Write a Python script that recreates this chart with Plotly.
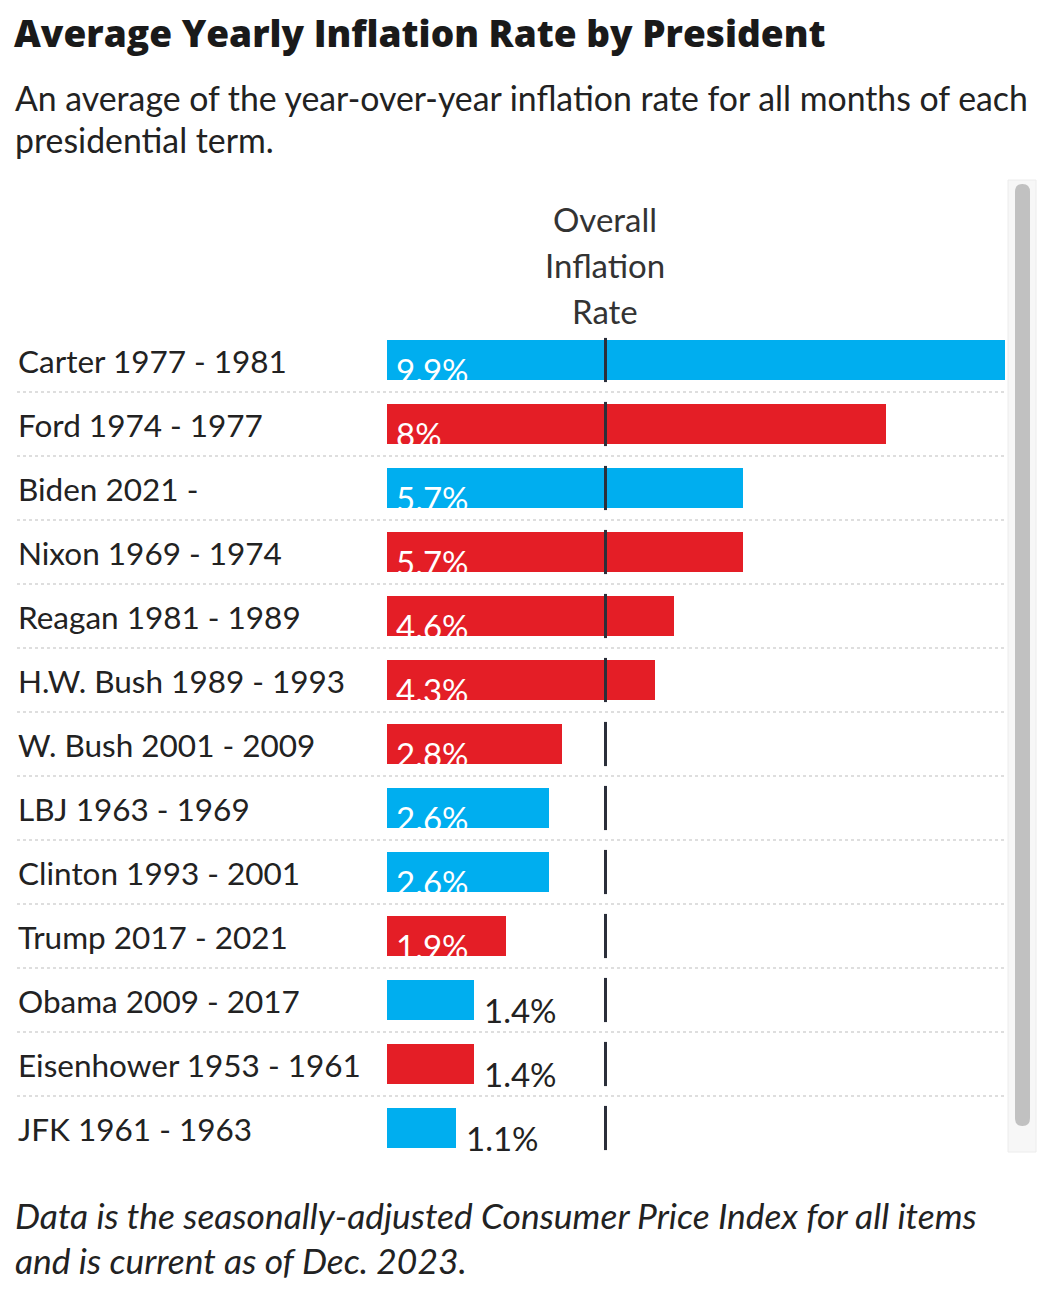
import plotly.graph_objects as go

# ---------------- data ----------------
presidents = ["Carter 1977 - 1981", "Ford 1974 - 1977", "Biden 2021 -", "Nixon 1969 - 1974",
              "Reagan 1981 - 1989", "H.W. Bush 1989 - 1993", "W. Bush 2001 - 2009",
              "LBJ 1963 - 1969", "Clinton 1993 - 2001", "Trump 2017 - 2021",
              "Obama 2009 - 2017", "Eisenhower 1953 - 1961", "JFK 1961 - 1963"]
rates = [9.9, 8.0, 5.7, 5.7, 4.6, 4.3, 2.8, 2.6, 2.6, 1.9, 1.4, 1.4, 1.1]
rate_labels = ["9.9%", "8%", "5.7%", "5.7%", "4.6%", "4.3%", "2.8%", "2.6%", "2.6%",
               "1.9%", "1.4%", "1.4%", "1.1%"]
parties = ["D", "R", "D", "R", "R", "R", "R", "D", "D", "R", "D", "R", "D"]
overall_rate = 3.5

title = "Average Yearly Inflation Rate by President"
subtitle_lines = ["An average of the year-over-year inflation rate for all months of each",
                  "presidential term."]
header_lines = ["Overall", "Inflation", "Rate"]
note_lines = ["Data is the seasonally-adjusted Consumer Price Index for all items",
              "and is current as of Dec. 2023."]

# ---------------- style ----------------
OFF = 8                      # page body margin
W, H = 1052 - 2 * OFF, 1290 - 2 * OFF
FONT = "Lato"
BLUE = "#00AEEF"
RED = "#E41E26"
TEXT = "#222222"
party_color = {"D": BLUE, "R": RED}


def px(x):
    return (x - OFF) / W


def py(y):
    return 1 - (y - OFF) / H


n = len(presidents)
idx = list(range(n))
row_top, row_h = 328, 64
colors = [party_color[p] for p in parties]

fig = go.Figure()
fig.add_trace(go.Bar(
    x=rates, y=idx, orientation="h", marker=dict(color=colors, line=dict(width=0)),
    width=40 / 64, hoverinfo="skip", showlegend=False,
))

# overall line segments
lx, ly = [], []
for i in idx:
    lx += [overall_rate, overall_rate, None]
    ly += [i - 0.345, i + 0.345, None]
fig.add_trace(go.Scatter(x=lx, y=ly, mode="lines", line=dict(color="#2b2f3a", width=3),
                         hoverinfo="skip", showlegend=False))

annotations = []
shapes = []

# title & subtitle
annotations.append(dict(text=title, x=px(12), y=py(33), xref="paper", yref="paper",
                        xanchor="left", yanchor="middle", showarrow=False,
                        font=dict(family="Open Sans", size=37, color="#1a1a1a", weight=800)))
for k, line in enumerate(subtitle_lines):
    annotations.append(dict(text=line, x=px(13), y=py(98 + 42 * k), xref="paper", yref="paper",
                            xanchor="left", yanchor="middle", showarrow=False,
                            font=dict(family=FONT, size=33.8, color=TEXT)))
for k, line in enumerate(header_lines):
    annotations.append(dict(text=line, x=overall_rate, y=py(219 + 46 * k), xref="x", yref="paper",
                            xanchor="center", yanchor="middle", showarrow=False,
                            font=dict(family=FONT, size=33, color="#333333")))
for k, line in enumerate(note_lines):
    annotations.append(dict(text=f"<i>{line}</i>", x=px(13), y=py(1215 + 45 * k), xref="paper",
                            yref="paper", xanchor="left", yanchor="middle", showarrow=False,
                            font=dict(family=FONT, size=35.4, color=TEXT)))

# row labels, value labels, separators
for i in idx:
    annotations.append(dict(text=presidents[i], x=px(16), y=i, xref="paper", yref="y",
                            xanchor="left", yanchor="middle", showarrow=False, yshift=-1,
                            font=dict(family=FONT, size=31.5, color=TEXT)))
    inside = rates[i] >= 1.5
    annotations.append(dict(text=rate_labels[i], x=0 if inside else rates[i], y=i, xref="x", yref="y",
                            xanchor="left", yanchor="middle", showarrow=False,
                            xshift=7 if inside else 8, yshift=-10,
                            font=dict(family=FONT, size=33, color="white" if inside else TEXT)))
    if i < n - 1:
        shapes.append(dict(type="line", xref="paper", yref="y", x0=px(17), x1=px(1005),
                           y0=i + 0.5, y1=i + 0.5, line=dict(color="#d4d4d4", width=1.5, dash="dot"),
                           layer="below"))

# scrollbar decoration
shapes.append(dict(type="rect", xref="paper", yref="paper", x0=px(1008), x1=px(1036),
                   y0=py(1152), y1=py(180), line=dict(color="#ececec", width=1),
                   fillcolor="#f7f7f7", layer="below"))
shapes.append(dict(type="path", xref="paper", yref="paper", layer="above",
                   path=(f"M {px(1015)},{py(192)} Q {px(1015)},{py(184)} {px(1022.5)},{py(184)} "
                         f"Q {px(1030)},{py(184)} {px(1030)},{py(192)} L {px(1030)},{py(1118)} "
                         f"Q {px(1030)},{py(1126)} {px(1022.5)},{py(1126)} "
                         f"Q {px(1015)},{py(1126)} {px(1015)},{py(1118)} Z"),
                   fillcolor="#c1c1c1", line=dict(width=0)))

fig.update_layout(
    width=W, height=H, margin=dict(l=0, r=0, t=0, b=0),
    paper_bgcolor="white", plot_bgcolor="white",
    xaxis=dict(domain=[px(387), px(1005)], range=[0, 9.9], visible=False, fixedrange=True),
    yaxis=dict(domain=[py(row_top + row_h * n), py(row_top)], range=[n - 0.5, -0.5],
               visible=False, fixedrange=True),
    annotations=annotations, shapes=shapes, bargap=0,
    font=dict(family=FONT),
)

fig.write_html("out.html")
